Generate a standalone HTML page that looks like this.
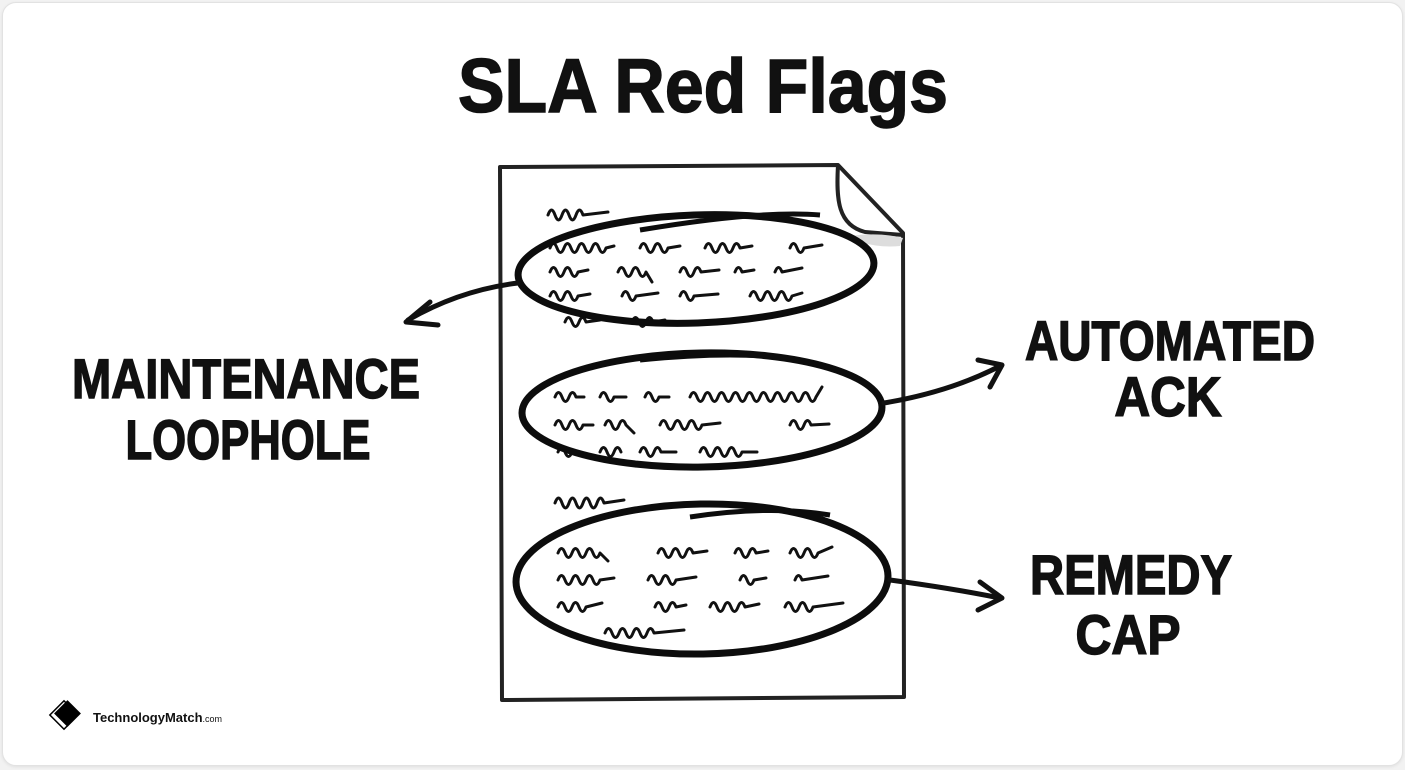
<!DOCTYPE html>
<html><head><meta charset="utf-8">
<style>
html,body{margin:0;padding:0;background:#f2f2f2;}
.card{position:absolute;left:2px;top:2px;width:1399px;height:762px;background:#fff;border:1px solid #e2e2e2;border-radius:14px;box-shadow:0 1px 3px rgba(0,0,0,.08);}
svg{position:absolute;left:0;top:0;}
</style></head><body>
<div class="card"></div>
<svg width="1405" height="770" viewBox="0 0 1405 770" xmlns="http://www.w3.org/2000/svg">
<g font-family="Liberation Sans, sans-serif" font-weight="bold" fill="#111" stroke="#111" stroke-width="1.5">
<text x="703" y="112" font-size="76" text-anchor="middle" textLength="490" lengthAdjust="spacingAndGlyphs">SLA Red Flags</text>
<text x="246" y="398" font-size="56" text-anchor="middle" textLength="348" lengthAdjust="spacingAndGlyphs">MAINTENANCE</text>
<text x="248" y="459" font-size="56" text-anchor="middle" textLength="245" lengthAdjust="spacingAndGlyphs">LOOPHOLE</text>
<text x="1170" y="360" font-size="56" text-anchor="middle" textLength="290" lengthAdjust="spacingAndGlyphs">AUTOMATED</text>
<text x="1168" y="416" font-size="56" text-anchor="middle" textLength="107" lengthAdjust="spacingAndGlyphs">ACK</text>
<text x="1131" y="594" font-size="56" text-anchor="middle" textLength="202" lengthAdjust="spacingAndGlyphs">REMEDY</text>
<text x="1128" y="654" font-size="56" text-anchor="middle" textLength="105" lengthAdjust="spacingAndGlyphs">CAP</text>
</g>
<!-- document -->
<g fill="none" stroke="#222" stroke-width="4" stroke-linejoin="round">
<path d="M500 167 L838 165 L903 233 L904 697 L502 700 Z" fill="#fff"/>
<path d="M838 165 C836 200 838 225 865 232 L903 235" />
</g>
<path d="M850 236 Q880 232 903 238 L900 246 Q880 248 860 242 Z" fill="#ddd"/>
<!-- scribbles -->
<g fill="none" stroke="#111" stroke-width="3" stroke-linecap="round" stroke-linejoin="round">
<path d="M548 215 q3.5 -10 7 0 t7 0 t7 0 t7 0 t7 0 l25 -3"/>
<path d="M550 248 q3.5 -9 7 0 t7 0 t7 0 t7 0 t7 0 t7 0 t7 0 t7 0 l8 -2 M640 248 q3.5 -9 7 0 t7 0 t7 0 t7 0 l12 -2 M705 248 q3.5 -9 7 0 t7 0 t7 0 t7 0 t7 0 l12 -2 M790 248 q3.5 -9 7 0 t7 0 l18 -3"/>
<path d="M550 272 q3.5 -9 7 0 t7 0 t7 0 t7 0 l10 -2 M618 272 q3.5 -9 7 0 t7 0 t7 0 t7 0 l6 10 M680 272 q3.5 -9 7 0 t7 0 t7 0 l18 -2 M735 272 q3.5 -9 7 0 l12 -2 M775 272 q3.5 -9 7 0 l20 -4"/>
<path d="M550 296 q3.5 -9 7 0 t7 0 t7 0 t7 0 l12 -2 M622 296 q3.5 -9 7 0 t7 0 l22 -3 M680 296 q3.5 -9 7 0 t7 0 l24 -2 M750 296 q3.5 -9 7 0 t7 0 t7 0 t7 0 t7 0 t7 0 l10 -3"/>
<path d="M565 322 q3.5 -9 7 0 t7 0 t7 0 l14 -2 M632 322 q3.5 -9 7 0 t7 0 t7 0 l12 -2"/>
<path d="M555 397 q3.5 -9 7 0 t7 0 t7 0 l8 0 M600 397 q3.5 -9 7 0 t7 0 l12 0 M645 397 q3.5 -9 7 0 t7 0 l10 0 M690 397 q3.5 -9 7 0 t7 0 t7 0 t7 0 t7 0 t7 0 t7 0 t7 0 t7 0 t7 0 t7 0 t7 0 t7 0 t7 0 t7 0 t7 0 t7 0 t7 0 l6 -10"/>
<path d="M555 425 q3.5 -9 7 0 t7 0 t7 0 t7 0 l10 0 M605 425 q3.5 -9 7 0 t7 0 t7 0 l8 8 M660 425 q3.5 -9 7 0 t7 0 t7 0 t7 0 t7 0 t7 0 l18 -2 M790 425 q3.5 -9 7 0 t7 0 t7 0 l18 -1"/>
<path d="M558 452 q3.5 -9 7 0 t7 0 l6 0 M600 452 q3.5 -9 7 0 t7 0 t7 0 M640 452 q3.5 -9 7 0 t7 0 t7 0 l15 0 M700 452 q3.5 -9 7 0 t7 0 t7 0 t7 0 t7 0 t7 0 l15 0"/>
<path d="M555 503 q3.5 -10 7 0 t7 0 t7 0 t7 0 t7 0 t7 0 t7 0 l20 -3"/>
<path d="M558 553 q3.5 -9 7 0 t7 0 t7 0 t7 0 t7 0 t7 0 l8 8 M658 553 q3.5 -9 7 0 t7 0 t7 0 t7 0 t7 0 l14 -2 M735 553 q3.5 -9 7 0 t7 0 t7 0 l12 -2 M790 553 q3.5 -9 7 0 t7 0 t7 0 t7 0 l14 -6"/>
<path d="M558 580 q3.5 -9 7 0 t7 0 t7 0 t7 0 t7 0 t7 0 l14 -2 M648 580 q3.5 -9 7 0 t7 0 t7 0 t7 0 l20 -3 M740 580 q3.5 -9 7 0 t7 0 l12 -2 M795 580 q3.5 -9 7 0 l26 -4"/>
<path d="M558 607 q3.5 -9 7 0 t7 0 t7 0 t7 0 l16 -4 M655 607 q3.5 -9 7 0 t7 0 t7 0 l10 -2 M710 607 q3.5 -9 7 0 t7 0 t7 0 t7 0 t7 0 l14 -3 M785 607 q3.5 -9 7 0 t7 0 t7 0 t7 0 l30 -4"/>
<path d="M605 633 q3.5 -9 7 0 t7 0 t7 0 t7 0 t7 0 t7 0 t7 0 l30 -3"/>
</g>
<!-- ellipses -->
<g fill="none" stroke="#0c0c0c" stroke-width="7">
<ellipse cx="696" cy="269" rx="178" ry="54" transform="rotate(-2 696 269)"/>
<path d="M640 230 Q760 210 820 215" stroke-width="5"/>
<ellipse cx="702" cy="410" rx="180" ry="57" transform="rotate(-1 702 410)"/>
<path d="M640 360 Q740 350 800 360" stroke-width="5"/>
<ellipse cx="702" cy="579" rx="186" ry="75" transform="rotate(-1 702 579)"/>
<path d="M690 517 Q770 505 830 515" stroke-width="5"/>
</g>
<!-- arrows -->
<g fill="none" stroke="#111" stroke-width="5" stroke-linecap="round" stroke-linejoin="round">
<path d="M518 283 Q460 290 408 320"/>
<path d="M430 302 L406 322 L438 325"/>
<path d="M884 403 Q950 392 1000 366"/>
<path d="M978 360 L1002 365 L990 387"/>
<path d="M890 580 Q950 588 1000 598"/>
<path d="M980 582 L1002 598 L978 610"/>
</g>
<!-- logo -->
<g>
<rect x="54" y="705" width="20" height="20" transform="rotate(45 64 715)" fill="#fff" stroke="#000" stroke-width="1.5"/>
<rect x="58" y="704" width="19" height="19" transform="rotate(45 67.5 713.5)" fill="#000"/>
<text x="93" y="722" font-family="Liberation Sans, sans-serif" font-weight="bold" font-size="13" fill="#111">TechnologyMatch<tspan font-size="9" font-weight="normal">.com</tspan></text>
</g>
</svg>
</body></html>
